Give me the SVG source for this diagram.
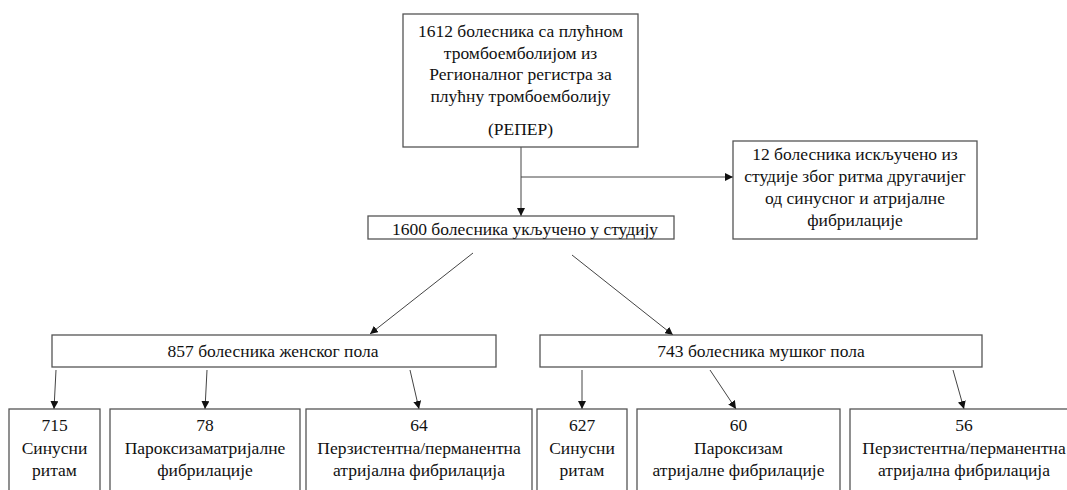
<svg xmlns="http://www.w3.org/2000/svg" width="1067" height="490" viewBox="0 0 1067 490">
<style>
.box{fill:#fff;stroke:#555;stroke-width:1.3}
.t{font-family:'Liberation Serif','DejaVu Serif','Times New Roman',serif;font-size:17.5px;fill:#111;text-anchor:middle}
.c{stroke:#444;stroke-width:1;fill:none;marker-end:url(#ah)}
.l{stroke:#444;stroke-width:1;fill:none}
</style>
<defs>
<marker id="ah" viewBox="0 0 10 10" refX="10" refY="5" markerWidth="8" markerHeight="8" markerUnits="userSpaceOnUse" orient="auto">
<path d="M0,0 L10,5 L0,10 z" fill="#111"/>
</marker>
</defs>
<rect width="1067" height="490" fill="#fff"/>
<g id="connectors">
<line class="l" x1="521" y1="147" x2="521" y2="177"/>
<line class="c" x1="521" y1="177" x2="521" y2="216"/>
<line class="c" x1="521" y1="177" x2="733" y2="177"/>
<line class="c" x1="473" y1="253" x2="370" y2="334"/>
<line class="c" x1="572" y1="255" x2="673" y2="335"/>
<line class="c" x1="56" y1="370" x2="54" y2="409"/>
<line class="c" x1="207" y1="370" x2="205" y2="409"/>
<line class="c" x1="410" y1="370" x2="419" y2="409"/>
<line class="c" x1="582" y1="370" x2="582" y2="409"/>
<line class="c" x1="710" y1="370" x2="736" y2="409"/>
<line class="c" x1="953" y1="370" x2="964" y2="409"/>
</g>
<g id="n-top">
<rect class="box" x="403" y="14" width="235" height="133"/>
<text class="t" x="520.5" y="37">1612 болесника са плућном</text>
<text class="t" x="520.5" y="59">тромбоемболијом из</text>
<text class="t" x="520.5" y="80">Регионалног регистра за</text>
<text class="t" x="520.5" y="102">плућну тромбоемболију</text>
<text class="t" x="520.5" y="135">(РЕПЕР)</text>
</g>
<g id="n-excluded">
<rect class="box" x="733" y="141" width="244" height="98"/>
<text class="t" x="855" y="160">12 болесника искључено из</text>
<text class="t" x="855" y="182">студије због ритма другачијег</text>
<text class="t" x="855" y="204">од синусног и атријалне</text>
<text class="t" x="855" y="226">фибрилације</text>
</g>
<g id="n-included">
<rect class="box" x="368" y="216" width="306" height="23"/>
<text class="t" x="525" y="235">1600 болесника укључено у студију</text>
</g>
<g id="n-female">
<rect class="box" x="52" y="335" width="444" height="32"/>
<text class="t" x="273" y="357">857 болесника женског пола</text>
</g>
<g id="n-male">
<rect class="box" x="540" y="335" width="442" height="32"/>
<text class="t" x="761" y="357">743 болесника мушког пола</text>
</g>
<g id="n-f-sinus">
<rect class="box" x="9" y="409" width="91" height="100"/>
<text class="t" x="54.5" y="431">715</text>
<text class="t" x="54.5" y="454">Синусни</text>
<text class="t" x="54.5" y="476">ритам</text>
</g>
<g id="n-f-parox">
<rect class="box" x="110" y="409" width="190" height="100"/>
<text class="t" x="205" y="431">78</text>
<text class="t" x="205" y="454">Пароксизаматријалне</text>
<text class="t" x="205" y="476">фибрилације</text>
</g>
<g id="n-f-pers">
<rect class="box" x="306" y="409" width="226" height="100"/>
<text class="t" x="419" y="431">64</text>
<text class="t" x="419" y="454">Перзистентна/перманентна</text>
<text class="t" x="419" y="476">атријална фибрилација</text>
</g>
<g id="n-m-sinus">
<rect class="box" x="537" y="409" width="90" height="100"/>
<text class="t" x="582" y="431">627</text>
<text class="t" x="582" y="454">Синусни</text>
<text class="t" x="582" y="476">ритам</text>
</g>
<g id="n-m-parox">
<rect class="box" x="637" y="409" width="203" height="100"/>
<text class="t" x="738.5" y="431">60</text>
<text class="t" x="738.5" y="454">Пароксизам</text>
<text class="t" x="738.5" y="476">атријалне фибрилације</text>
</g>
<g id="n-m-pers">
<rect class="box" x="850" y="409" width="228" height="100"/>
<text class="t" x="964" y="431">56</text>
<text class="t" x="964" y="454">Перзистентна/перманентна</text>
<text class="t" x="964" y="476">атријална фибрилација</text>
</g>
</svg>
